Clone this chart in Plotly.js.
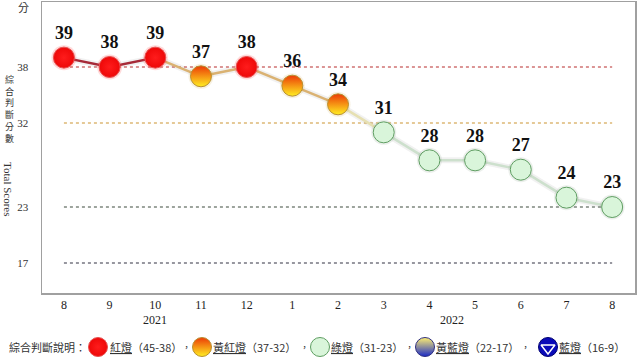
<!DOCTYPE html>
<html><head><meta charset="utf-8">
<script src="https://cdn.plot.ly/plotly-3.0.1.min.js"></script>
<style>html,body{margin:0;padding:0;background:#fff}#chart{width:640px;height:360px}</style>
</head><body><div id="chart"></div>
<script>
// ---- data ----
const months = ['8','9','10','11','12','1','2','3','4','5','6','7','8'];
const scores = [39,38,39,37,38,36,34,31,28,28,27,24,23];
const years = ['2021','2022'];
const gridLevels = [38,32,23,17];
const yTickVals = [17,23,32,38];
const yTitleZh = ['綜','合','判','斷','分','數'];
const yTitleEn = 'Total Scores';
const yUnit = '分';
const legendTitle = '綜合判斷說明：';
const legendNames = ['紅燈','黃紅燈','綠燈','黃藍燈','藍燈'];
const legendRanges = ['（45-38）','（37-32）','（31-23）','（22-17）','（16-9）'];

// ---- styles ----
const serif = 'Liberation Serif, Times New Roman, serif';
const cjk = 'Noto Sans CJK TC, Noto Sans, sans-serif';
const idx = months.map((m,i)=>i);
function light(v){ if(v>=38) return 0; if(v>=32) return 1; if(v>=23) return 2; if(v>=17) return 3; return 4; }
const lightStyle = [
  {color:'#ee0808', grad:{type:'radial', color:'#ff1c1c'}, line:'#e85050', halo:'rgba(255,70,70,0.2)'},
  {color:'#ec3a06', grad:{type:'vertical', color:'#ffee22'}, line:'#b89030', halo:'rgba(200,160,60,0.15)'},
  {color:'#d9f5da', grad:{type:'none'}, line:'#5f9e62', halo:'rgba(120,150,120,0.15)'},
  {color:'#fff070', grad:{type:'vertical', color:'#1a2ac8'}, line:'#303080', halo:'rgba(0,0,0,0)'},
  {color:'#0a0ab8', grad:{type:'none'}, line:'#000070', halo:'rgba(0,0,0,0)'}
];
const lights = scores.map(light);

const traces = [];
// line segments
for(let i=0;i<scores.length-1;i++){
  const a=lights[i], b=lights[i+1];
  let col;
  if(a===0 && b===0) col='#a62a38';
  else if(a===1 || b===1){ col = (a===2||b===2) ? '#e6e0b2' : '#dab272'; }
  else col='#cde0cd';
  traces.push({x:[idx[i],idx[i+1]], y:[scores[i],scores[i+1]], mode:'lines',
    line:{color:'rgba(120,120,120,0.10)', width:6}, hoverinfo:'skip', xaxis:'x', yaxis:'y'});
  traces.push({x:[idx[i],idx[i+1]], y:[scores[i],scores[i+1]], mode:'lines',
    line:{color:col, width:2.5}, hoverinfo:'skip', xaxis:'x', yaxis:'y'});
}
// halo
traces.push({x:idx, y:scores, mode:'markers', hoverinfo:'skip',
  marker:{size:25, color:lights.map(l=>lightStyle[l].halo), line:{width:0}}});
// markers + labels
traces.push({x:idx, y:scores, mode:'markers+text', hoverinfo:'skip',
  text:scores.map(v=>'<b>'+v+'</b>'), textposition:'top center',
  textfont:{family:serif, size:18, color:'#111'},
  marker:{size:21, color:lights.map(l=>lightStyle[l].color),
    gradient:{type:lights.map(l=>lightStyle[l].grad.type), color:lights.map(l=>lightStyle[l].grad.color||'#fff')},
    line:{width:1, color:lights.map(l=>lightStyle[l].line)}}});

// legend markers (pixel overlay axes)
const legMarkX = [98, 202, 320, 425, 548];
const legTextX = [108, 211, 329, 434, 557];
const legCommaX = [186, 304, 409, 525];
const legY = 347;
const L = [0,1,2,3,4];
traces.push({x:legMarkX, y:legMarkX.map(()=>legY), xaxis:'x2', yaxis:'y2', mode:'markers', hoverinfo:'skip',
  marker:{size:19, color:L.map(l=>lightStyle[l].color),
    gradient:{type:L.map(l=>lightStyle[l].grad.type), color:L.map(l=>lightStyle[l].grad.color||'#fff')},
    line:{width:1, color:L.map(l=>lightStyle[l].line)}}});
traces.push({x:[legMarkX[4]], y:[legY+1], xaxis:'x2', yaxis:'y2', mode:'markers', hoverinfo:'skip',
  marker:{size:12, symbol:'triangle-down-open', color:'#ffffff', line:{width:1.5, color:'#ffffff'}}});

// shapes: dotted guide lines
const gridColors = ['#b82c2c','#cc9430','#3c4a3c','#303040'];
const shapes = gridLevels.map((g,i)=>({type:'line', xref:'x', yref:'y', x0:idx[0], x1:idx[idx.length-1], y0:g, y1:g,
  line:{color:gridColors[i], width:1.1, dash:'dot'}, layer:'below'}));

// annotations
const ann = [];
let starts=[0];
for(let i=1;i<months.length;i++) if(+months[i] < +months[i-1]) starts.push(i);
years.forEach((yr,k)=>{
  const s=starts[k], e=(k+1<starts.length?starts[k+1]:months.length)-1;
  ann.push({x:(s+e)/2, y:1-320/360, xref:'x', yref:'paper', text:yr, showarrow:false,
    yanchor:'middle', font:{family:serif, size:12, color:'#222'}});
});
ann.push({x:23, y:7, xref:'x2', yref:'y2', text:yUnit, showarrow:false, font:{family:cjk, size:11, color:'#333'}});
ann.push({x:9, y:109, xref:'x2', yref:'y2', text:yTitleZh.join('<br>'), showarrow:false, align:'center',
  font:{family:cjk, size:9, color:'#333'}});
ann.push({x:8, y:189, xref:'x2', yref:'y2', text:yTitleEn, textangle:90, showarrow:false,
  font:{family:serif, size:11, color:'#333'}});
ann.push({x:7, y:legY, xref:'x2', yref:'y2', xanchor:'left', text:legendTitle, showarrow:false,
  font:{family:cjk, size:11, color:'#333'}});
legendNames.forEach((n,i)=>{
  ann.push({x:legTextX[i], y:legY, xref:'x2', yref:'y2', xanchor:'left', text:'<u>'+n+'</u>'+legendRanges[i],
    showarrow:false, font:{family:cjk, size:11, color:'#333'}});
});
legCommaX.forEach(cx=>ann.push({x:cx, y:legY, xref:'x2', yref:'y2', text:'，', showarrow:false,
  font:{family:cjk, size:9, color:'#333'}}));

const layout = {
  width:640, height:360, margin:{l:0,r:0,t:0,b:0},
  paper_bgcolor:'#ffffff', plot_bgcolor:'rgba(0,0,0,0)', showlegend:false,
  xaxis:{domain:[42/640, 635/640], range:[-0.48,12.5], tickvals:idx, ticktext:months,
    showgrid:false, zeroline:false, showline:true, linecolor:'#a0a0a0', linewidth:1.5, mirror:true,
    ticks:'', tickfont:{family:serif, size:12, color:'#222'}, anchor:'y', fixedrange:true},
  yaxis:{domain:[1-293/360, 1-2/360], range:[13.79,44.96], tickvals:yTickVals,
    showgrid:false, zeroline:false, showline:true, linecolor:'#a0a0a0', linewidth:1.5, mirror:true,
    ticks:'outside', ticklen:10, tickcolor:'rgba(0,0,0,0)', tickfont:{family:serif, size:11, color:'#333'}, anchor:'x', fixedrange:true},
  xaxis2:{domain:[0,1], range:[0,640], anchor:'y2', visible:false, fixedrange:true},
  yaxis2:{domain:[0,1], range:[360,0], anchor:'x2', visible:false, fixedrange:true},
  shapes:shapes, annotations:ann
};
Plotly.newPlot('chart', traces, layout, {staticPlot:true, displayModeBar:false});
</script></body></html>
